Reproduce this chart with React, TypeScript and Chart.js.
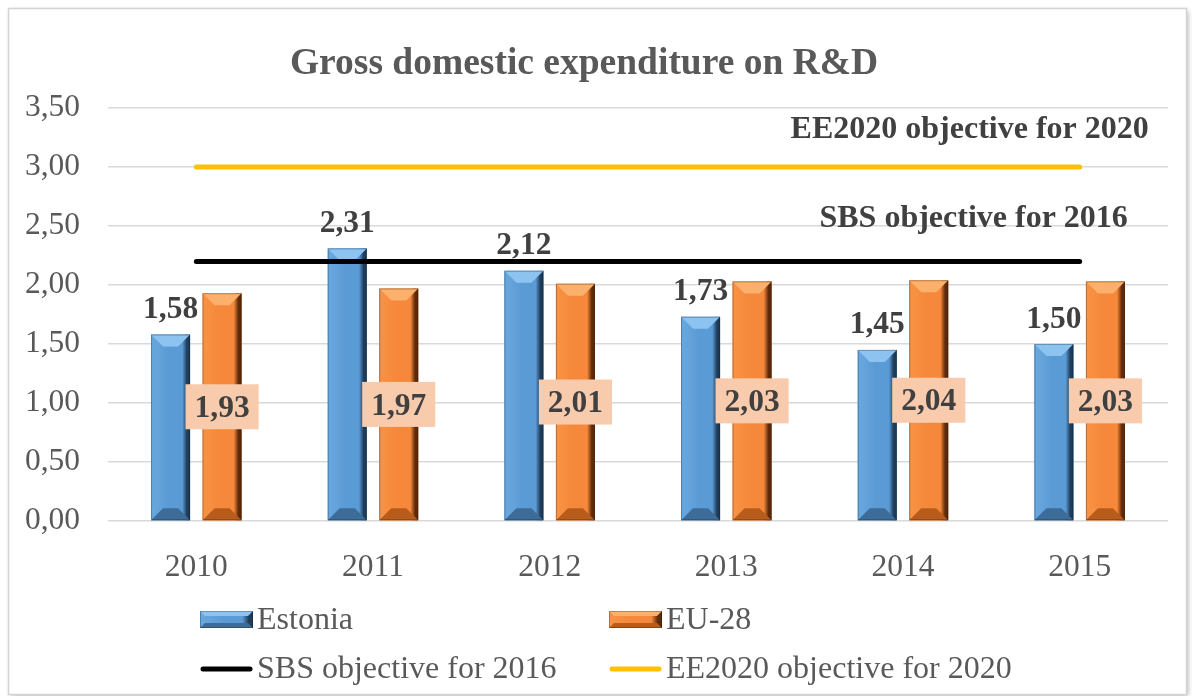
import React, { useEffect, useRef } from "react";
import { Chart, registerables } from "chart.js";

Chart.register(...registerables);

const categories = ["2010", "2011", "2012", "2013", "2014", "2015"];
const estonia = [1.58, 2.31, 2.12, 1.73, 1.45, 1.5];
const eu28 = [1.93, 1.97, 2.01, 2.03, 2.04, 2.03];
const sbsObjective = [2.2, 2.2, 2.2, 2.2, 2.2, 2.2];
const ee2020Objective = [3.0, 3.0, 3.0, 3.0, 3.0, 3.0];
const seriesNames = ["Estonia", "EU-28", "SBS objective for 2016", "EE2020 objective for 2020"];
const titleText = "Gross domestic expenditure on R&D";

const FONT = "'Liberation Serif', 'Times New Roman', serif";

type Pal = { left: string; mid: string; right: string; top: string; bottom: string };
const bluePal: Pal = { left: "#6aa8df", mid: "#5b9bd5", right: "#1f3c5a", top: "#8cc3f0", bottom: "#3d6c98" };
const orangePal: Pal = { left: "#f99345", mid: "#f5883a", right: "#5e2a0a", top: "#fbb06c", bottom: "#b85c1c" };
const palettes = [bluePal, orangePal];

function fmt(v: number) {
  return v.toFixed(2).replace(".", ",");
}

function drawBevel(ctx: CanvasRenderingContext2D, x0: number, y0: number, x1: number, y1: number, pal: Pal, bsize: number) {
  const w = x1 - x0;
  const h = y1 - y0;
  if (w <= 0 || h <= 0) return;
  const b = Math.min(bsize, w / 3, h / 2);
  const g = ctx.createLinearGradient(x0, 0, x1, 0);
  g.addColorStop(0, pal.left);
  g.addColorStop(0.45, pal.mid);
  g.addColorStop(0.8, pal.mid);
  g.addColorStop(0.92, pal.right);
  g.addColorStop(1, pal.right);
  ctx.fillStyle = g;
  ctx.fillRect(x0, y0, w, h);
  ctx.fillStyle = pal.top;
  ctx.beginPath();
  ctx.moveTo(x0, y0);
  ctx.lineTo(x1, y0);
  ctx.lineTo(x1 - b, y0 + b);
  ctx.lineTo(x0 + b, y0 + b);
  ctx.closePath();
  ctx.fill();
  ctx.fillStyle = pal.bottom;
  ctx.beginPath();
  ctx.moveTo(x0, y1);
  ctx.lineTo(x1, y1);
  ctx.lineTo(x1 - b, y1 - b);
  ctx.lineTo(x0 + b, y1 - b);
  ctx.closePath();
  ctx.fill();
  ctx.strokeStyle = "rgba(0,0,0,0.25)";
  ctx.lineWidth = 1;
  ctx.strokeRect(x0 + 0.5, y0 + 0.5, w - 1, h - 1);
}

const framePlugin = {
  id: "frame",
  beforeDraw(chart: any) {
    const ctx = chart.ctx as CanvasRenderingContext2D;
    ctx.save();
    ctx.fillStyle = "#ffffff";
    ctx.fillRect(0, 0, chart.width, chart.height);
    ctx.shadowColor = "rgba(0,0,0,0.3)";
    ctx.shadowBlur = 5;
    ctx.shadowOffsetX = 2;
    ctx.shadowOffsetY = 2;
    ctx.fillStyle = "#ffffff";
    ctx.fillRect(9, 9, 1177, 685);
    ctx.shadowColor = "transparent";
    ctx.strokeStyle = "#d4d4d4";
    ctx.lineWidth = 1.5;
    ctx.strokeRect(8.5, 8.5, 1178, 686);
    ctx.restore();
  },
};

const bevelPlugin = {
  id: "bevel",
  afterDatasetDraw(chart: any, args: any) {
    const meta = args.meta;
    if (meta.type !== "bar") return;
    const pal = palettes[args.index];
    const ctx = chart.ctx as CanvasRenderingContext2D;
    ctx.save();
    meta.data.forEach((el: any) => {
      const p = el.getProps(["x", "y", "base", "width"], true);
      const x0 = p.x - p.width / 2;
      const x1 = p.x + p.width / 2;
      drawBevel(ctx, x0, Math.min(p.y, p.base), x1, Math.max(p.y, p.base), pal, 12);
    });
    ctx.restore();
  },
};

const labelPlugin = {
  id: "labels",
  afterDatasetsDraw(chart: any) {
    const ctx = chart.ctx as CanvasRenderingContext2D;
    ctx.save();
    ctx.font = `bold 31.5px ${FONT}`;
    const m0 = chart.getDatasetMeta(0);
    m0.data.forEach((el: any, i: number) => {
      const p = el.getProps(["x", "y"], true);
      ctx.fillStyle = "#404040";
      ctx.textAlign = "center";
      ctx.textBaseline = "alphabetic";
      ctx.fillText(fmt(estonia[i]), p.x, p.y - 16.5);
    });
    const m1 = chart.getDatasetMeta(1);
    m1.data.forEach((el: any, i: number) => {
      const p = el.getProps(["x", "y", "base"], true);
      const cy = (p.y + p.base) / 2;
      const t = fmt(eu28[i]);
      const tw = ctx.measureText(t).width;
      const bw = tw + 18;
      const bh = 45;
      ctx.fillStyle = "#f8cbad";
      ctx.fillRect(p.x - bw / 2, cy - bh / 2, bw, bh);
      ctx.fillStyle = "#404040";
      ctx.textAlign = "center";
      ctx.textBaseline = "middle";
      ctx.fillText(t, p.x, cy + 2);
    });
    const xs = chart.scales.x;
    const ys = chart.scales.y;
    const cx = xs.getPixelForValue(5) - 110;
    ctx.font = `bold 32px ${FONT}`;
    ctx.fillStyle = "#404040";
    ctx.textAlign = "center";
    ctx.textBaseline = "alphabetic";
    ctx.fillText(seriesNames[3], cx, ys.getPixelForValue(ee2020Objective[5]) - 29);
    ctx.fillText(seriesNames[2], cx + 4, ys.getPixelForValue(sbsObjective[5]) - 34);
    ctx.restore();
  },
};

const legendPlugin = {
  id: "customLegend",
  afterDraw(chart: any) {
    const ctx = chart.ctx as CanvasRenderingContext2D;
    const cols = [200, 609];
    const rows = [619.5, 669];
    const sw = 53;
    ctx.save();
    ctx.font = `32px ${FONT}`;
    ctx.textAlign = "left";
    ctx.textBaseline = "middle";
    chart.data.datasets.forEach((ds: any, i: number) => {
      const col = cols[i % 2];
      const row = rows[Math.floor(i / 2)];
      if (i < 2) {
        drawBevel(ctx, col, row - 8.5, col + sw, row + 8.5, palettes[i], 5);
      } else {
        ctx.strokeStyle = ds.borderColor;
        ctx.lineWidth = 5;
        ctx.lineCap = "round";
        ctx.beginPath();
        ctx.moveTo(col + 3, row);
        ctx.lineTo(col + sw - 3, row);
        ctx.stroke();
      }
      ctx.fillStyle = "#595959";
      ctx.fillText(ds.label, col + sw + 4, row + 1);
    });
    ctx.restore();
  },
};

export default function App() {
  const ref = useRef<HTMLCanvasElement>(null);
  useEffect(() => {
    if (!ref.current) return;
    const chart = new Chart(ref.current, {
      type: "bar",
      data: {
        labels: categories,
        datasets: [
          { type: "bar", label: seriesNames[0], data: estonia, backgroundColor: "#5b9bd5", order: 1 },
          { type: "bar", label: seriesNames[1], data: eu28, backgroundColor: "#f5883a", order: 1 },
          {
            type: "line", label: seriesNames[2], data: sbsObjective, borderColor: "#000000", borderWidth: 5,
            pointRadius: 0, borderCapStyle: "round", order: 0, fill: false,
          },
          {
            type: "line", label: seriesNames[3], data: ee2020Objective, borderColor: "#ffc000", borderWidth: 5,
            pointRadius: 0, borderCapStyle: "round", order: 0, fill: false,
          },
        ] as any,
      },
      options: {
        responsive: false,
        animation: false,
        devicePixelRatio: 1,
        layout: { padding: { top: 0, left: 0, right: 24, bottom: 115 } },
        datasets: { bar: { categoryPercentage: 0.583, barPercentage: 0.757 } },
        plugins: {
          legend: { display: false },
          tooltip: { enabled: false },
          title: {
            display: true,
            text: titleText,
            color: "#595959",
            font: { family: FONT, size: 37.5, weight: "bold" },
            padding: { top: 42, bottom: 21 },
          },
        },
        scales: {
          x: {
            grid: { display: false },
            border: { display: false },
            ticks: { color: "#595959", font: { family: FONT, size: 31.5 }, padding: 20 },
            afterFit: (s: any) => { s.height = 60; },
          },
          y: {
            min: 0,
            max: 3.5,
            ticks: {
              stepSize: 0.5,
              color: "#595959",
              font: { family: FONT, size: 31.5 },
              padding: 28,
              callback: (v: any) => fmt(Number(v)),
            },
            grid: { color: "#d9d9d9", lineWidth: 1.5, drawTicks: false },
            border: { display: false },
            afterFit: (s: any) => { s.width = 108; },
          },
        },
      } as any,
      plugins: [framePlugin, bevelPlugin, labelPlugin, legendPlugin],
    });
    return () => chart.destroy();
  }, []);
  return (
    <div style={{ position: "fixed", left: 0, top: 0, width: 1192, height: 696, background: "#fff" }}>
      <canvas ref={ref} width={1192} height={696} style={{ display: "block", width: 1192, height: 696 }} />
    </div>
  );
}
